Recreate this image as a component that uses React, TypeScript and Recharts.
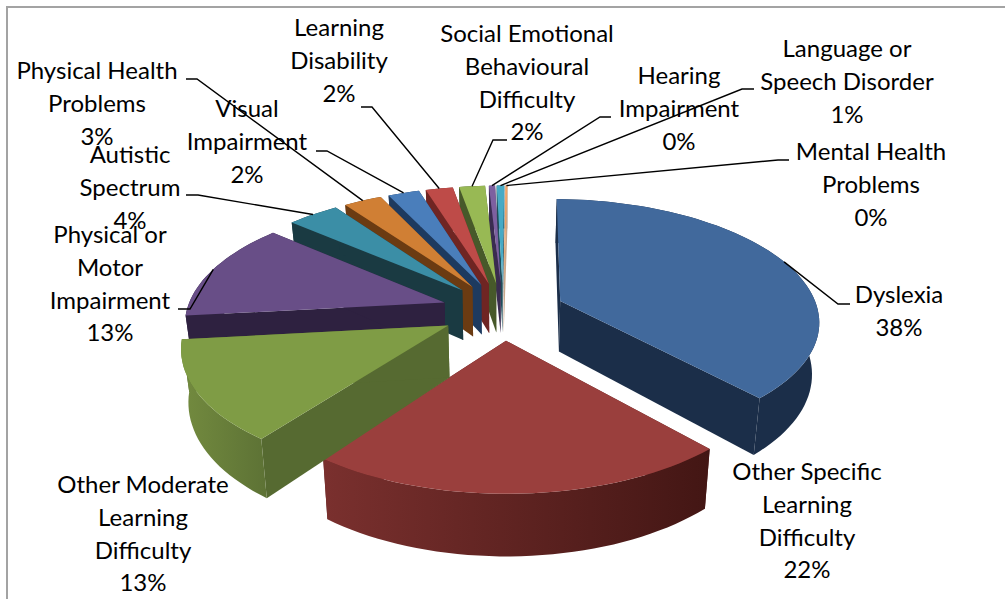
import React from "react";
import { PieChart, Pie } from "recharts";

const names = [
  "Dyslexia",
  "Other Specific Learning Difficulty",
  "Other Moderate Learning Difficulty",
  "Physical or Motor Impairment",
  "Autistic Spectrum",
  "Physical Health Problems",
  "Visual Impairment",
  "Learning Disability",
  "Social Emotional Behavioural Difficulty",
  "Hearing Impairment",
  "Language or Speech Disorder",
  "Mental Health Problems",
];
const values = [37.9, 21.9, 13, 13, 3.8, 2.8, 2.3, 2, 1.9, 0.45, 0.55, 0.15];
const percentLabels = ["38%", "22%", "13%", "13%", "4%", "3%", "2%", "2%", "2%", "0%", "1%", "0%"];

const wrappedNames = [
  ["Dyslexia"],
  ["Other Specific", "Learning", "Difficulty"],
  ["Other Moderate", "Learning", "Difficulty"],
  ["Physical or", "Motor", "Impairment"],
  ["Autistic", "Spectrum"],
  ["Physical Health", "Problems"],
  ["Visual", "Impairment"],
  ["Learning", "Disability"],
  ["Social Emotional", "Behavioural", "Difficulty"],
  ["Hearing", "Impairment"],
  ["Language or", "Speech Disorder"],
  ["Mental Health", "Problems"],
];

const topColors = ["#41699c", "#9a3f3d", "#7f9c45", "#684e87", "#3b8ea6", "#d07f34", "#4a7ebb", "#be4b48", "#98b954", "#7d60a0", "#46aac5", "#f0a468"];
const faceColors = ["#1b2e49", "#5c2220", "#566a31", "#2e2140", "#1a3a42", "#6b3b12", "#1e3a5f", "#6f2523", "#47592a", "#3a2c50", "#1f4d5a", "#c9a88c"];
const rimLeft = ["#1b2e49", "#7a302e", "#738b3f", "#2e2140", "#1a3a42", "#6b3b12", "#1e3a5f", "#6f2523", "#47592a", "#3a2c50", "#1f4d5a", "#c9a88c"];
const rimRight = ["#1b2e49", "#431614", "#5d7235", "#2e2140", "#1a3a42", "#6b3b12", "#1e3a5f", "#6f2523", "#47592a", "#3a2c50", "#1f4d5a", "#c9a88c"];

// back slices are painted first, green sits over the red one
const paintOrder = [11, 10, 9, 8, 7, 6, 5, 4, 3, 1, 2, 0];

// label centre x, first baseline y, leader elbow and end (null = no leader)
const labelLayout: any[] = [
  { x: 899, y: 303, line: [[838, 304], [850, 304]] },
  { x: 807, y: 480, line: null },
  { x: 143, y: 493, line: null },
  { x: 110, y: 243, line: [[190, 309], [178, 309]] },
  { x: 130, y: 163, line: [[198, 195], [186, 195]] },
  { x: 97, y: 79, line: [[197, 79], [186, 79]] },
  { x: 247, y: 117, line: [[327, 151], [316, 151]] },
  { x: 339, y: 36, line: [[372, 107], [361, 107]] },
  { x: 527, y: 42, line: [[493, 140], [507, 140]] },
  { x: 679, y: 84, line: [[600, 117], [611, 117]] },
  { x: 847, y: 57, line: [[742, 89], [754, 89]] },
  { x: 871, y: 160, line: [[778, 160], [789, 160]] },
];

const tableData = names.map((name, i) => ({ name, value: values[i] }));

const TILT = 120 / 258; // vertical squash of the disk
const PERSPECTIVE = 0.15;
const EXPLODE = 0.24;
const DEPTH = 51;
const BOTTOM_SHRINK = 0.023; // lower face sits further from the camera
const LINE_HEIGHT = 32.8;

// project a point of the exploded disk (unit radius) to the screen
const project = (p: any, clock: number, radius: number, h: number) => {
  const mid = ((90 - (p.startAngle + p.endAngle) / 2) * Math.PI) / 180;
  const a = (clock * Math.PI) / 180;
  const u = EXPLODE * Math.sin(mid) + radius * Math.sin(a);
  const v = -EXPLODE * Math.cos(mid) - radius * Math.cos(a);
  const s = 1 / (1 - PERSPECTIVE * v);
  return [
    p.cx + p.outerRadius * u * s * (1 - BOTTOM_SHRINK * h),
    p.cy + (p.outerRadius * TILT * v + DEPTH * h) * s,
  ];
};

const toPath = (pts: number[][]) =>
  "M" + pts.map((q) => q[0].toFixed(1) + "," + q[1].toFixed(1)).join("L") + "Z";

const arc = (p: any, h: number) => {
  const from = 90 - p.startAngle;
  const to = 90 - p.endAngle;
  const steps = Math.max(2, Math.ceil((to - from) / 2));
  const pts = [];
  for (let i = 0; i <= steps; i++) {
    pts.push(project(p, from + ((to - from) * i) / steps, 1, h));
  }
  return pts;
};

const Slice3D = (p: any) => {
  const i = p.index;
  const top = arc(p, 0);
  const bottom = arc(p, 1);
  const apexTop = project(p, 0, 0, 0);
  const apexBottom = project(p, 0, 0, 1);
  const last = top.length - 1;
  return (
    <g>
      <defs>
        <linearGradient id={"rim" + i} x1="0" x2="1" y1="0" y2="0">
          <stop offset="0" stopColor={rimLeft[i]} />
          <stop offset="1" stopColor={rimRight[i]} />
        </linearGradient>
      </defs>
      <path d={toPath([apexTop, top[0], bottom[0], apexBottom])} fill={faceColors[i]} />
      <path d={toPath([apexTop, top[last], bottom[last], apexBottom])} fill={faceColors[i]} />
      <path d={toPath([...top, ...bottom.slice().reverse()])} fill={"url(#rim" + i + ")"} />
      <path d={toPath([apexTop, ...top])} fill={topColors[i]} />
    </g>
  );
};

const SliceLabel = (p: any) => {
  const i = p.index;
  const layout = labelLayout[i];
  const clock = 90 - (p.startAngle + p.endAngle) / 2;
  const start = project(p, clock, 1, 0);
  const lines = [...wrappedNames[i], percentLabels[i]];
  return (
    <g>
      {layout.line && (
        <polyline
          points={[start, ...layout.line].map((q: number[]) => q.join(",")).join(" ")}
          fill="none"
          stroke="#000"
          strokeWidth={1.4}
        />
      )}
      <text textAnchor="middle" fontFamily="Lato" fontSize={24} fill="#000">
        {lines.map((t, k) => (
          <tspan key={k} x={layout.x} y={layout.y + k * LINE_HEIGHT}>
            {t}
          </tspan>
        ))}
      </text>
    </g>
  );
};

const pieProps = {
  data: tableData,
  dataKey: "value",
  nameKey: "name",
  cx: 503,
  cy: 311,
  outerRadius: 258,
  startAngle: 89,
  endAngle: -271,
  stroke: "none",
  isAnimationActive: false,
};

const App = () => {
  return (
    <div style={{ position: "absolute", left: 0, top: 0, width: 1005, height: 599, overflow: "hidden", background: "#fff" }}>
      <div style={{ position: "absolute", left: 6, top: 6, width: 999, height: 593, borderLeft: "2px solid #a3a3a3", borderTop: "2px solid #a3a3a3" }} />
      <PieChart width={1005} height={599} margin={{ top: 0, right: 0, bottom: 0, left: 0 }}>
        {paintOrder.map((idx) => (
          <Pie
            key={idx}
            {...pieProps}
            shape={(p: any) => (p.index === idx ? <Slice3D {...p} /> : <g />)}
          />
        ))}
        <Pie key="labels" {...pieProps} shape={(p: any) => <SliceLabel {...p} />} />
      </PieChart>
    </div>
  );
};

export default App;
